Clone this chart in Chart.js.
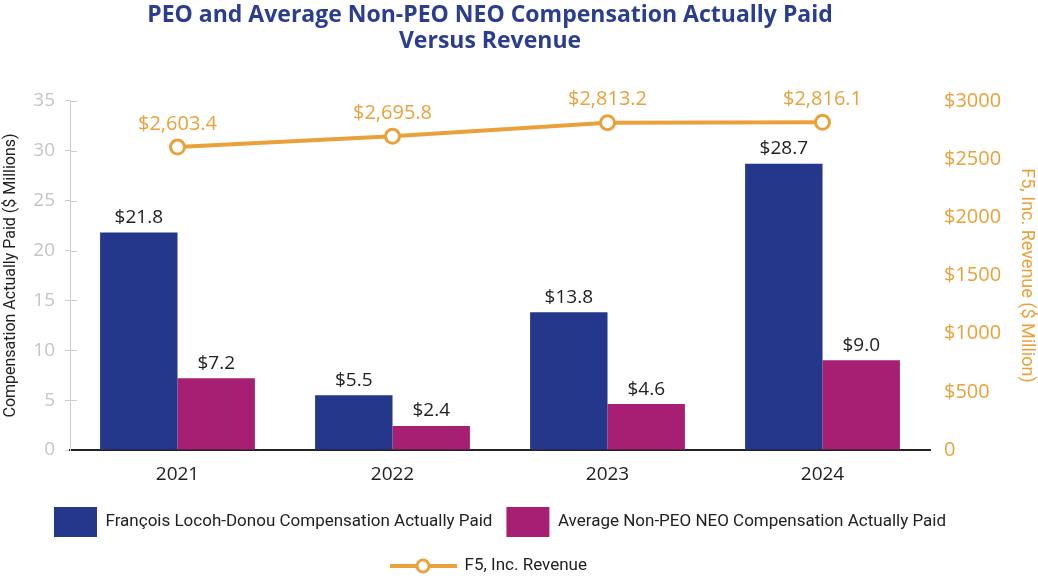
<!DOCTYPE html>
<html>
<head>
<meta charset="utf-8">
<script src="https://cdn.jsdelivr.net/npm/chart.js@4"></script>
<style>
  html, body { margin: 0; padding: 0; background: #fff; overflow: hidden; }
  #wrap { width: 1038px; height: 591px; }
</style>
</head>
<body>
<div id="wrap"><canvas id="chart"></canvas></div>
<script>
const years = ['2021', '2022', '2023', '2024'];
const peoPaid = [21.8, 5.5, 13.8, 28.7];
const neoPaid = [7.2, 2.4, 4.6, 9.0];
const revenue = [2603.4, 2695.8, 2813.2, 2816.1];
const seriesNames = [
  'François Locoh-Donou Compensation Actually Paid',
  'Average Non-PEO NEO Compensation Actually Paid',
  'F5, Inc. Revenue'
];

const navy = '#24378a';
const magenta = '#a61f73';
const orange = '#e9a23b';
const titleBlue = '#2b3d8e';

// value labels above bars and points
const valueLabels = {
  id: 'valueLabels',
  afterDatasetsDraw(chart) {
    const ctx = chart.ctx;
    ctx.save();
    ctx.textAlign = 'center';
    ctx.textBaseline = 'middle';
    chart.data.datasets.forEach((ds, di) => {
      const isLine = ds.type === 'line';
      ctx.fillStyle = isLine ? orange : '#222';
      ctx.font = isLine ? '20px "Open Sans"' : '19px "Open Sans"';
      chart.getDatasetMeta(di).data.forEach((el, i) => {
        const v = ds.data[i];
        const txt = '$' + (isLine
          ? v.toLocaleString('en-US', { minimumFractionDigits: 1, maximumFractionDigits: 1 })
          : v.toFixed(1));
        ctx.fillText(txt, el.x, el.y - (isLine ? 23 : 15));
      });
    });
    ctx.restore();
  }
};

// nudge title/legend, small tick marks inside the left axis, line+circle legend icon
const legendTweaks = {
  id: 'legendTweaks',
  afterLayout(chart) {
    chart.legend.left -= 19;
    chart.legend.right -= 19;
    chart.titleBlock.left -= 10;
    chart.titleBlock.right -= 10;
  },
  afterDraw(chart) {
    const ctx = chart.ctx;
    const y = chart.scales.y;
    ctx.save();
    ctx.strokeStyle = '#ccc';
    ctx.lineWidth = 1;
    y.ticks.forEach(t => {
      const py = Math.round(y.getPixelForValue(t.value)) + 0.5;
      if (t.value === 0) return;
      ctx.beginPath();
      ctx.moveTo(y.right, py);
      ctx.lineTo(y.right + 7, py);
      ctx.stroke();
    });
    const hb = chart.legend.legendHitBoxes[2];
    if (hb) {
      const cy = hb.top + hb.height / 2;
      ctx.strokeStyle = orange;
      ctx.lineWidth = 4;
      ctx.beginPath();
      ctx.moveTo(hb.left - 23, cy);
      ctx.lineTo(hb.left + 44, cy);
      ctx.stroke();
      ctx.beginPath();
      ctx.arc(hb.left + 10, cy, 6, 0, Math.PI * 2);
      ctx.fillStyle = '#fff';
      ctx.fill();
      ctx.lineWidth = 3;
      ctx.stroke();
    }
    ctx.restore();
  }
};

new Chart(document.getElementById('chart'), {
  data: {
    labels: years,
    datasets: [
      { type: 'bar', label: seriesNames[0], data: peoPaid, backgroundColor: navy, yAxisID: 'y',
        barPercentage: 1, categoryPercentage: 0.72 },
      { type: 'bar', label: seriesNames[1], data: neoPaid, backgroundColor: magenta, yAxisID: 'y',
        barPercentage: 1, categoryPercentage: 0.72 },
      { type: 'line', label: seriesNames[2], data: revenue, yAxisID: 'y1',
        borderColor: orange, borderWidth: 4, tension: 0,
        pointRadius: 7, pointBorderWidth: 3, pointBackgroundColor: '#fff', pointBorderColor: orange }
    ]
  },
  options: {
    responsive: true,
    maintainAspectRatio: false,
    animation: false,
    layout: { padding: 0 },
    plugins: {
      tooltip: { enabled: false },
      title: {
        display: true,
        fullSize: false,
        text: ['PEO and Average Non-PEO NEO Compensation Actually Paid', 'Versus Revenue'],
        color: titleBlue,
        font: { family: 'Open Sans', size: 23, weight: 'bold', lineHeight: 1.15 },
        padding: { top: 2, bottom: 46 }
      },
      legend: {
        position: 'bottom',
        labels: {
          boxWidth: 43,
          boxHeight: 30,
          padding: 14,
          color: '#222',
          font: { family: 'Roboto', size: 17 },
          generateLabels(chart) {
            const items = Chart.defaults.plugins.legend.labels.generateLabels(chart);
            items.forEach((it, i) => {
              it.lineWidth = 0;
              if (i === 2) {
                it.fillStyle = 'rgba(0,0,0,0)';
                it.strokeStyle = 'rgba(0,0,0,0)';
              }
            });
            return items;
          }
        }
      }
    },
    scales: {
      x: {
        grid: { display: false, drawTicks: false },
        border: { color: '#222', width: 2 },
        ticks: { color: '#222', font: { family: 'Open Sans', size: 19 }, padding: 13 },
        afterFit(s) { s.height = 43; }
      },
      y: {
        position: 'left',
        min: 0, max: 35,
        ticks: { stepSize: 5, color: '#c4c4c4', font: { family: 'Open Sans', size: 19 }, padding: 10 },
        grid: { drawOnChartArea: false, tickLength: 5, color: '#ccc' },
        border: { color: '#ccc' },
        title: {
          display: true,
          text: 'Compensation Actually Paid ($ Millions)',
          color: '#222',
          font: { family: 'Roboto', size: 16 },
          padding: { top: 1, bottom: 1 }
        },
        afterFit(s) { s.width = 70; }
      },
      y1: {
        position: 'right',
        min: 0, max: 3000,
        ticks: {
          stepSize: 500,
          color: orange,
          font: { family: 'Open Sans', size: 20 },
          padding: 14,
          callback: v => (v === 0 ? '0' : '$' + v)
        },
        grid: { display: false, drawTicks: false },
        border: { display: false },
        title: {
          display: true,
          text: 'F5, Inc. Revenue ($ Million)',
          color: orange,
          font: { family: 'Roboto', size: 18 },
          padding: { top: 1, bottom: 1 }
        },
        afterFit(s) { s.width = 108; }
      }
    }
  },
  plugins: [valueLabels, legendTweaks]
});
</script>
</body>
</html>
